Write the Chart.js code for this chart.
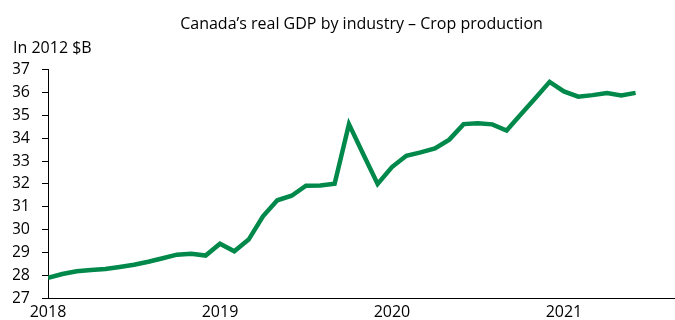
<!DOCTYPE html>
<html>
<head>
<meta charset="utf-8">
<script src="https://cdn.jsdelivr.net/npm/chart.js@4"></script>
<style>
  html, body { margin: 0; padding: 0; background: #fff; }
  #wrap { width: 675px; height: 320px; }
</style>
</head>
<body>
<div id="wrap"><canvas id="chart_CropGDP"></canvas></div>
<script>
// monthly, Jan 2018 .. Jun 2021
const startYear = 2018;
const gdpValues = [27.88, 28.05, 28.17, 28.23, 28.27, 28.36, 28.46, 28.59, 28.74, 28.9, 28.94, 28.86,
                   29.38, 29.05, 29.56, 30.58, 31.28, 31.48, 31.92, 31.93, 32.01, 34.62, 33.3, 32.0,
                   32.74, 33.23, 33.38, 33.55, 33.94, 34.62, 34.66, 34.61, 34.34, 35.05, 35.75, 36.47,
                   36.05, 35.82, 35.89, 35.98, 35.88, 35.99];
const yearLabels = ['2018', '2019', '2020', '2021'];
const yTicks = [27, 28, 29, 30, 31, 32, 33, 34, 35, 36, 37];

const points = gdpValues.map((v, i) => ({ x: i, y: v }));
const font = "'Open Sans', sans-serif";

const ctx = document.getElementById('chart_CropGDP');

new Chart(ctx, {
  type: 'line',
  data: {
    datasets: [
      {
        label: 'Crop production',
        data: points,
        borderColor: 'rgb(0, 137, 74)',
        borderWidth: 4.5,
        pointRadius: 0,
        tension: 0,
        fill: false,
      },
    ],
  },
  options: {
    responsive: true,
    maintainAspectRatio: false,
    animation: false,
    layout: {
      padding: { left: 13, right: 0, top: 0, bottom: 0 }
    },
    scales: {
      x: {
        type: 'linear',
        min: 0,
        max: 43.75,
        grid: { display: false, drawTicks: false },
        border: { display: true, color: '#000', width: 1 },
        afterBuildTicks: (scale) => {
          scale.ticks = yearLabels.map((y, i) => ({ value: i * 12 }));
        },
        afterFit: (scale) => { scale.height = 22; },
        ticks: {
          color: '#000',
          font: { family: font, size: 16 },
          padding: 5,
          maxRotation: 0,
          autoSkip: false,
          callback: (v) => yearLabels[Math.round(v / 12)],
        },
      },
      y: {
        min: 27,
        max: 37,
        afterBuildTicks: (scale) => {
          scale.ticks = yTicks.map(v => ({ value: v }));
        },
        afterFit: (scale) => { scale.width = 35; },
        grid: {
          display: true,
          drawOnChartArea: false,
          drawTicks: true,
          tickLength: 6,
          color: '#000',
        },
        border: { display: true, color: '#000', width: 1 },
        ticks: {
          color: '#000',
          font: { family: font, size: 16 },
          padding: 12,
        },
      },
    },
    plugins: {
      legend: { display: false },
      tooltip: { enabled: false },
      title: {
        display: true,
        fullSize: false,
        text: 'Canada’s real GDP by industry – Crop production',
        color: '#000',
        font: { family: font, size: 16, weight: 'normal' },
        padding: { top: 15, bottom: 5 },
      },
      subtitle: {
        display: true,
        text: 'In 2012 $B',
        align: 'start',
        color: '#000',
        font: { family: font, size: 16, weight: 'normal' },
        padding: { top: 0, bottom: 11.4 },
      },
    },
  },
});
</script>
</body>
</html>
